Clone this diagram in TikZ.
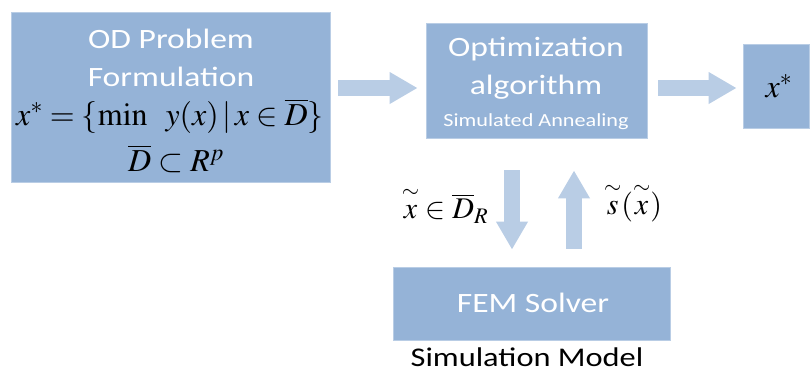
\documentclass[tikz,border=0pt]{standalone}
\usepackage{mathptmx}
\usepackage{amsmath}
\usepackage{graphicx}
\usepackage[no-math]{fontspec}
\setmainfont{Carlito}
\usetikzlibrary{arrows.meta}
\definecolor{boxblue}{HTML}{95B3D7}
\definecolor{arrblue}{HTML}{B9CDE5}
\newcommand{\wide}[1]{\scalebox{1.2}[1]{#1}}
\newcommand{\tl}[1]{\overset{\raisebox{2pt}{$\scriptstyle\sim$}}{#1}}
\tikzset{
  blk/.style={fill=boxblue, draw=arrblue, line width=0.8pt, inner sep=0pt, text=white},
  fat/.style={draw=arrblue, line width=16pt, -{Triangle[length=28pt,width=30pt]}},
  wtxt/.style={text=white, font=\fontsize{28}{28}\selectfont},
  mtxt/.style={text=black, font=\fontsize{32}{32}\selectfont},
}
\begin{document}
\begin{tikzpicture}[x=1pt,y=-1pt]
\useasboundingbox (0,0) rectangle (810,370);
% boxes
\node[blk, minimum width=319pt, minimum height=170pt] (od) at (170.5,97) {};
\node[blk, minimum width=221pt, minimum height=115pt] (opt) at (536.5,80.5) {};
\node[blk, minimum width=66pt, minimum height=84pt] (res) at (776,86) {};
\node[blk, minimum width=277pt, minimum height=73pt] (fem) at (531.5,303.5) {};
% texts
\node[wtxt] (t1) at (171,39) {\wide{OD Problem}};
\node[wtxt] (t2) at (171,77) {\wide{Formulation}};
\node[mtxt] (f1) at (170,116) {$x^{*}=\{\min\;\; y(x)\,|\,x\in\overline{D}\}$};
\node[mtxt] (f2) at (176,159) {$\overline{D}\subset R^{p}$};
\node[wtxt] (t3) at (536,49) {\wide{Optimization}};
\node[wtxt] (t4) at (536,87) {\wide{algorithm}};
\node[text=white, font=\fontsize{18.5}{18.5}\selectfont] (t5) at (536,122) {\wide{Simulated Annealing}};
\node[mtxt] (xs) at (779,86) {$x^{*}$};
\node[wtxt] (t6) at (533,303) {\wide{FEM Solver}};
\node[text=black, font=\fontsize{27}{27}\selectfont, anchor=base] (t7) at (527,366) {\wide{Simulation Model}};
\node[text=black, font=\fontsize{30}{30}\selectfont] (l1) at (445,205) {$\tl{x}\in\overline{D}_{R}$};
\node[text=black, font=\fontsize{30}{30}\selectfont] (l2) at (633,202) {$\tl{s}(\tl{x})$};
% arrows
\coordinate (ya) at (0,88);
\coordinate (xd) at (512,0);
\coordinate (xu) at (574,0);
\draw[fat, shorten <=8pt, shorten >=8pt] (od.east |- ya) -- (opt.west |- ya);
\draw[fat, shorten <=11pt, shorten >=6pt] (opt.east |- ya) -- (res.west |- ya);
\draw[fat, shorten <=32pt, shorten >=17pt] (opt.south -| xd) -- (fem.north -| xd);
\draw[fat, shorten <=18pt, shorten >=32pt] (fem.north -| xu) -- (opt.south -| xu);
\end{tikzpicture}
\end{document}
